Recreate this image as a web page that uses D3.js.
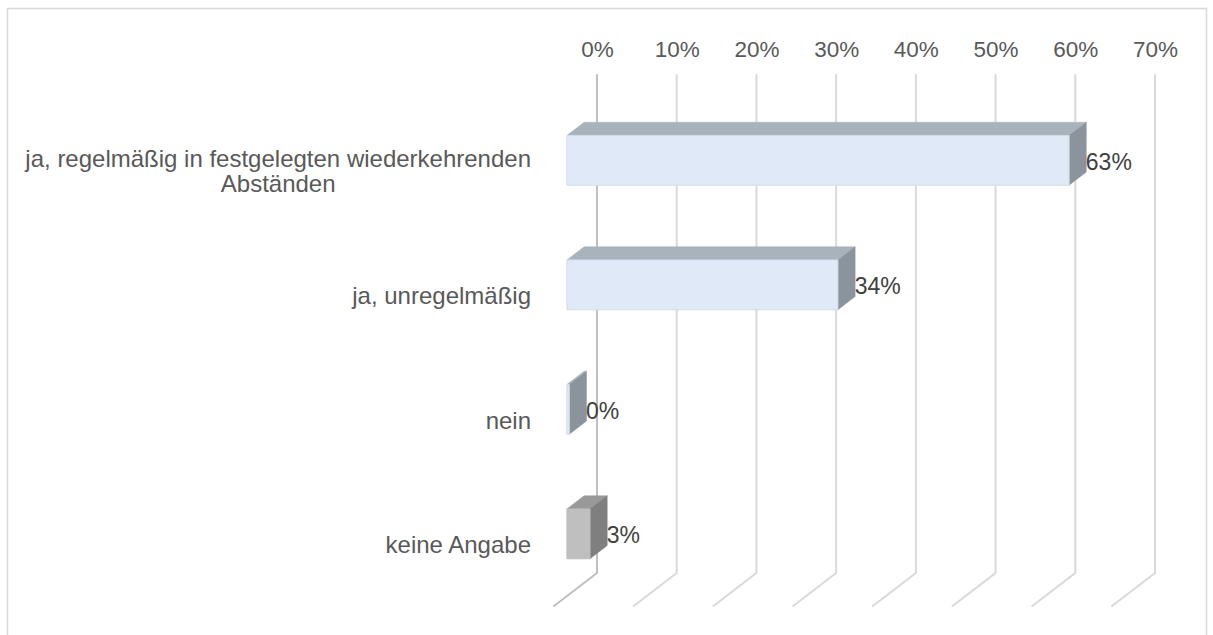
<!DOCTYPE html>
<html>
<head>
<meta charset="utf-8">
<script src="https://cdn.jsdelivr.net/npm/d3@7"></script>
<style>
  html, body { margin: 0; padding: 0; background: #fff; }
  svg { display: block; font-family: "Liberation Sans", Arial, sans-serif; }
</style>
</head>
<body>
<svg id="chart" width="1213" height="635"></svg>
<script>
// ---- data ----
const categories = [
  ["ja, regelmäßig in festgelegten wiederkehrenden", "Abständen"],
  ["ja, unregelmäßig"],
  ["nein"],
  ["keine Angabe"]
];
const values = [63, 34, 0.3, 2.9];
const valueLabels = ["63%", "34%", "0%", "3%"];
const tickValues = [0, 10, 20, 30, 40, 50, 60, 70];

// ---- styles ----
const palettes = [
  {front: "#dfe9f7", top: "#a9b3bc", side: "#8b949c", stroke: "#d3dbe5"},
  {front: "#dfe9f7", top: "#a9b3bc", side: "#8b949c", stroke: "#d3dbe5"},
  {front: "#dfe9f7", top: "#a9b3bc", side: "#8b949c", stroke: "#d3dbe5"},
  {front: "#bfbfbf", top: "#999999", side: "#7f7f7f", stroke: "#bdbdbd"}
];

const svg = d3.select("#chart");

// chart border
svg.append("rect")
  .attr("x", 7.5).attr("y", 8.5)
  .attr("width", 1199).attr("height", 640)
  .attr("fill", "none").attr("stroke", "#d9d9d9").attr("stroke-width", 1.5);

// back wall geometry
const wallTop = 75, wallBottom = 573;
const depthDX = -43, depthDY = 33;
const barFront = 0.7, barBack = 0.3;

const x = d3.scaleLinear().domain([0, 70]).range([597, 1155]);
const y = d3.scaleBand().domain(d3.range(categories.length))
  .range([wallTop, wallBottom]).paddingInner(0.6).paddingOuter(0.3);

// gridlines (back wall vertical + floor diagonal)
const grid = svg.append("g");
tickValues.forEach((t, i) => {
  const gx = x(t);
  grid.append("path")
    .attr("d", `M${gx},${wallTop} L${gx},${wallBottom} L${gx + depthDX},${wallBottom + depthDY}`)
    .attr("fill", "none")
    .attr("stroke", i === 0 ? "#bfbfbf" : "#d9d9d9")
    .attr("stroke-width", 2)
    .attr("stroke-linecap", "round")
    .attr("stroke-linejoin", "round");
});

// top axis labels
const axis = d3.axisTop(x).tickValues(tickValues).tickSize(0).tickPadding(0)
  .tickFormat(d => d + "%");
const ag = svg.append("g").attr("transform", "translate(0,57)").call(axis);
ag.select(".domain").remove();
ag.selectAll("text")
  .attr("font-family", "Liberation Sans, Arial, sans-serif")
  .attr("font-size", 22.5).attr("fill", "#595959").attr("dy", 0);

// bars
const P = (v, yy, d) => [x(v) + d * depthDX, yy + d * depthDY];
const bars = svg.append("g");
values.forEach((v, i) => {
  const c = palettes[i];
  const y0 = y(i), y1 = y(i) + y.bandwidth();
  const fTL = P(0, y0, barFront), fTR = P(v, y0, barFront), fBR = P(v, y1, barFront), fBL = P(0, y1, barFront);
  const bTL = P(0, y0, barBack), bTR = P(v, y0, barBack), bBR = P(v, y1, barBack);
  const poly = pts => "M" + pts.map(p => p.join(",")).join("L") + "Z";
  // top face
  bars.append("path").attr("d", poly([fTL, fTR, bTR, bTL])).attr("fill", c.top)
    .attr("stroke", c.top).attr("stroke-width", 0.5);
  // side face
  bars.append("path").attr("d", poly([fTR, bTR, bBR, fBR])).attr("fill", c.side)
    .attr("stroke", c.side).attr("stroke-width", 0.5);
  // front face
  bars.append("path").attr("d", poly([fTL, fTR, fBR, fBL])).attr("fill", c.front)
    .attr("stroke", c.stroke).attr("stroke-width", 1);
  // value label
  bars.append("text")
    .attr("x", bTR[0] - 0.5)
    .attr("y", (fTR[1] + fBR[1]) / 2 + 9.5)
    .attr("font-size", 23).attr("fill", "#404040")
    .text(valueLabels[i]);
});

// category labels (front plane), lines centred on each other, block right-aligned
const cat = svg.append("g");
const labelRight = 531;
categories.forEach((lines, i) => {
  const cy = y(i) + y.bandwidth() / 2 + depthDY;
  const lh = 25;
  const startY = cy - (lines.length - 1) * lh / 2 + 9.5;
  const g = cat.append("g");
  const texts = lines.map((ln, j) => g.append("text")
    .attr("y", startY + j * lh)
    .attr("font-size", 24).attr("fill", "#595959")
    .attr("text-anchor", "middle")
    .text(ln));
  const maxW = d3.max(texts, t => t.node().getComputedTextLength());
  texts.forEach(t => t.attr("x", labelRight - maxW / 2));
});
</script>
</body>
</html>
